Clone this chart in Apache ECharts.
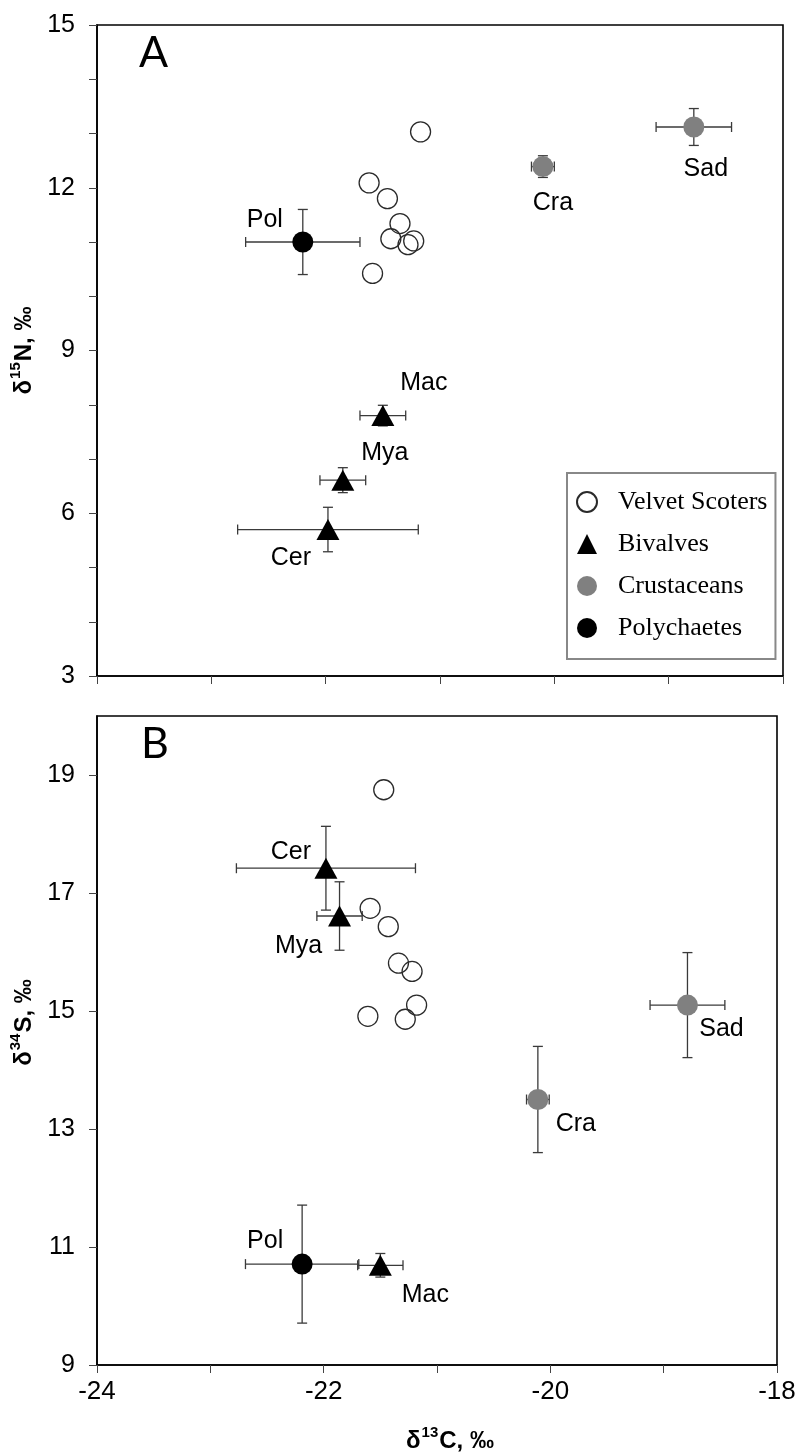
<!DOCTYPE html>
<html>
<head>
<meta charset="utf-8">
<script src="https://cdn.jsdelivr.net/npm/echarts@6/dist/echarts.min.js"></script>
<style>
html,body{margin:0;padding:0;background:#fff;}
#chart{width:801px;height:1454px;}
</style>
</head>
<body>
<div id="chart"></div>
<script>
// ---------- data ----------
const groupNames = ['Velvet Scoters', 'Bivalves', 'Crustaceans', 'Polychaetes'];

// Velvet Scoters (individual birds)
const scoterCarbonA = [-21.17, -21.62, -21.46, -21.35, -21.43, -21.28, -21.23, -21.59];
const scoterNitrogenA = [13.03, 12.09, 11.80, 11.34, 11.06, 10.95, 11.02, 10.42];
const scoterCarbonB = [-21.47, -21.59, -21.43, -21.34, -21.22, -21.18, -21.61, -21.28];
const scoterSulfurB = [18.75, 16.74, 16.43, 15.81, 15.67, 15.10, 14.91, 14.86];

// Prey taxa: code, group
const preyCodes = ['Pol', 'Cra', 'Sad', 'Mac', 'Mya', 'Cer'];
const preyGroup = ['Polychaetes', 'Crustaceans', 'Crustaceans', 'Bivalves', 'Bivalves', 'Bivalves'];

// Panel A: mean δ13C, δ15N and their SD
const preyCarbonA = [-22.20, -20.10, -18.78, -21.50, -21.85, -21.98];
const preyCarbonSdA = [0.50, 0.10, 0.33, 0.20, 0.20, 0.79];
const preyNitrogenA = [11.00, 12.39, 13.12, 7.80, 6.61, 5.70];
const preyNitrogenSdA = [0.60, 0.20, 0.34, 0.19, 0.23, 0.41];

// Panel B: mean δ13C, δ34S and their SD
const preyCarbonB = [-22.19, -20.11, -18.79, -21.50, -21.86, -21.98];
const preyCarbonSdB = [0.50, 0.10, 0.33, 0.20, 0.20, 0.79];
const preySulfurB = [10.71, 13.50, 15.10, 10.69, 16.61, 17.42];
const preySulfurSdB = [1.00, 0.90, 0.89, 0.20, 0.58, 0.71];

// Axis ticks and labels
const carbonTicks = [-24, -23, -22, -21, -20, -19, -18];
const carbonLabels = [-24, -22, -20, -18];
const nitrogenTicks = [3, 4, 5, 6, 7, 8, 9, 10, 11, 12, 13, 14, 15];
const nitrogenLabels = [3, 6, 9, 12, 15];
const sulfurTicks = [9, 11, 13, 15, 17, 19];
const sulfurLabels = [9, 11, 13, 15, 17, 19];

// ---------- styles ----------
const labelOffsetA = {Pol: [-38, -22], Cra: [10, 37], Sad: [12, 42], Mac: [41, -32], Mya: [42, -27], Cer: [-37, 29]};
const labelOffsetB = {Pol: [-37, -23], Cra: [38, 25], Sad: [34, 24], Mac: [45, 30], Mya: [-41, 30], Cer: [-35, -16]};
const groupStyle = {
  'Bivalves': {symbol: 'triangle', size: [23, 21], itemStyle: {color: '#000', opacity: 1}},
  'Crustaceans': {symbol: 'circle', size: 21, itemStyle: {color: '#808080', opacity: 1}},
  'Polychaetes': {symbol: 'circle', size: 21, itemStyle: {color: '#000', opacity: 1}}
};
const SANS = '"Liberation Sans", Arial, sans-serif';

function scoterData(xs, ys) { return xs.map((x, i) => [x, ys[i]]); }

function errData(xs, ys, xe, ye) { return xs.map((x, i) => [x, ys[i], xe[i], ye[i]]); }

function errorSeries(gridIdx, xs, ys, xe, ye) {
  return {
    type: 'custom', xAxisIndex: gridIdx, yAxisIndex: gridIdx, z: 1, silent: true,
    data: errData(xs, ys, xe, ye),
    renderItem: function (params, api) {
      const x = api.value(0), y = api.value(1), dx = api.value(2), dy = api.value(3);
      const l = api.coord([x - dx, y]), r = api.coord([x + dx, y]);
      const t = api.coord([x, y + dy]), b = api.coord([x, y - dy]);
      const c = 5;
      const st = {stroke: '#3a3a3a', lineWidth: 1.3};
      const ln = (x1, y1, x2, y2) => ({type: 'line', shape: {x1, y1, x2, y2}, style: st});
      return {type: 'group', children: [
        ln(l[0], l[1], r[0], r[1]),
        ln(l[0], l[1] - c, l[0], l[1] + c),
        ln(r[0], r[1] - c, r[0], r[1] + c),
        ln(t[0], t[1], b[0], b[1]),
        ln(t[0] - c, t[1], t[0] + c, t[1]),
        ln(b[0] - c, b[1], b[0] + c, b[1])
      ]};
    }
  };
}

function preySeries(gridIdx, group, xs, ys, offsets) {
  const data = [];
  preyCodes.forEach((code, i) => {
    if (preyGroup[i] === group) {
      data.push({name: code, value: [xs[i], ys[i]], label: {offset: offsets[code]}});
    }
  });
  const g = groupStyle[group];
  return {
    name: group, type: 'scatter', xAxisIndex: gridIdx, yAxisIndex: gridIdx, z: 3,
    symbol: g.symbol, symbolSize: g.size, itemStyle: g.itemStyle,
    label: {show: true, position: 'inside', formatter: '{b}', color: '#000',
      fontSize: 25, fontFamily: SANS, align: 'center', verticalAlign: 'middle'},
    emphasis: {disabled: true},
    data: data
  };
}

function scoterSeries(gridIdx, xs, ys) {
  return {
    name: 'Velvet Scoters', type: 'scatter', xAxisIndex: gridIdx, yAxisIndex: gridIdx, z: 2,
    symbol: 'circle', symbolSize: 20,
    itemStyle: {color: 'rgba(255,255,255,0)', borderColor: '#2a2a2a', borderWidth: 1.3, opacity: 1},
    emphasis: {disabled: true},
    data: scoterData(xs, ys)
  };
}

function axisNameStyle(pad) {
  return {
    fontFamily: SANS, fontWeight: 'bold', fontSize: 24, color: '#000', padding: pad,
    rich: {
      d: {fontFamily: SANS, fontWeight: 'bold', fontSize: 24, lineHeight: 28, verticalAlign: 'bottom', color: '#000'},
      s: {fontFamily: SANS, fontWeight: 'bold', fontSize: 15, lineHeight: 28, verticalAlign: 'top', padding: [0, 1, 0, 1], color: '#000'}
    }
  };
}

function xAxisCfg(gridIdx, showLabels) {
  const cfg = {
    type: 'value', gridIndex: gridIdx, min: -24, max: -18, interval: 1,
    axisLine: {show: true, onZero: false, lineStyle: {color: '#000', width: 1.6}},
    axisTick: {show: true, inside: false, length: 8, customValues: carbonTicks, lineStyle: {color: '#444', width: 1}},
    axisLabel: {show: showLabels, customValues: carbonLabels, margin: 14, fontSize: 26, fontFamily: SANS, color: '#000'},
    splitLine: {show: false}
  };
  if (showLabels) {
    cfg.name = '{d|δ}{s|13}{d|C, ‰}';
    cfg.nameLocation = 'middle';
    cfg.nameGap = 60;
    cfg.nameTextStyle = axisNameStyle([0, 0, 0, 26]);
  }
  return cfg;
}

function yAxisCfg(gridIdx, min, max, ticks, labels, name, pad) {
  return {
    type: 'value', gridIndex: gridIdx, min: min, max: max,
    axisLine: {show: true, onZero: false, lineStyle: {color: '#000', width: 1.6}},
    axisTick: {show: true, inside: false, length: 8, customValues: ticks, lineStyle: {color: '#444', width: 1}},
    axisLabel: {customValues: labels, margin: 22, fontSize: 25, fontFamily: SANS, color: '#000'},
    splitLine: {show: false},
    name: name, nameLocation: 'middle', nameGap: 60, nameTextStyle: axisNameStyle(pad)
  };
}

const chart = echarts.init(document.getElementById('chart'), null, {renderer: 'canvas'});

const option = {
  backgroundColor: '#fff',
  animation: false,
  grid: [
    {left: 97, top: 25, width: 686, height: 651, show: true, borderColor: '#000', borderWidth: 1.6, backgroundColor: 'transparent'},
    {left: 97, top: 716, width: 680, height: 650, show: true, borderColor: '#000', borderWidth: 1.6, backgroundColor: 'transparent'}
  ],
  xAxis: [xAxisCfg(0, false), xAxisCfg(1, true)],
  yAxis: [
    yAxisCfg(0, 3, 15, nitrogenTicks, nitrogenLabels, '{d|δ}{s|15}{d|N, ‰}', [0, 0, 0, 0]),
    yAxisCfg(1, 9, 20, sulfurTicks, sulfurLabels, '{d|δ}{s|34}{d|S, ‰}', [0, 0, 0, 36])
  ],
  legend: {
    show: true, selectedMode: false, orient: 'vertical',
    left: 567, top: 473,
    padding: [16, 8, 18, 9],
    borderColor: '#888', borderWidth: 2,
    itemWidth: 20, itemHeight: 20, itemGap: 16,
    textStyle: {fontFamily: '"Liberation Serif", "Times New Roman", serif', fontSize: 26, color: '#000', lineHeight: 26, padding: [0, 0, 0, 16]},
    data: [
      {name: groupNames[0], icon: 'circle'},
      {name: groupNames[1], icon: 'triangle'},
      {name: groupNames[2], icon: 'circle'},
      {name: groupNames[3], icon: 'circle'}
    ]
  },
  graphic: [
    {type: 'text', left: 139, top: 32, z: 10, style: {text: 'A', font: '43px Lato, "Open Sans", sans-serif', fill: '#000'}},
    {type: 'text', left: 141, top: 723, z: 10, style: {text: 'B', font: '43px Lato, "Open Sans", sans-serif', fill: '#000'}}
  ],
  series: [
    errorSeries(0, preyCarbonA, preyNitrogenA, preyCarbonSdA, preyNitrogenSdA),
    scoterSeries(0, scoterCarbonA, scoterNitrogenA),
    preySeries(0, 'Bivalves', preyCarbonA, preyNitrogenA, labelOffsetA),
    preySeries(0, 'Crustaceans', preyCarbonA, preyNitrogenA, labelOffsetA),
    preySeries(0, 'Polychaetes', preyCarbonA, preyNitrogenA, labelOffsetA),
    errorSeries(1, preyCarbonB, preySulfurB, preyCarbonSdB, preySulfurSdB),
    scoterSeries(1, scoterCarbonB, scoterSulfurB),
    preySeries(1, 'Bivalves', preyCarbonB, preySulfurB, labelOffsetB),
    preySeries(1, 'Crustaceans', preyCarbonB, preySulfurB, labelOffsetB),
    preySeries(1, 'Polychaetes', preyCarbonB, preySulfurB, labelOffsetB)
  ]
};
chart.setOption(option);
</script>
</body>
</html>
